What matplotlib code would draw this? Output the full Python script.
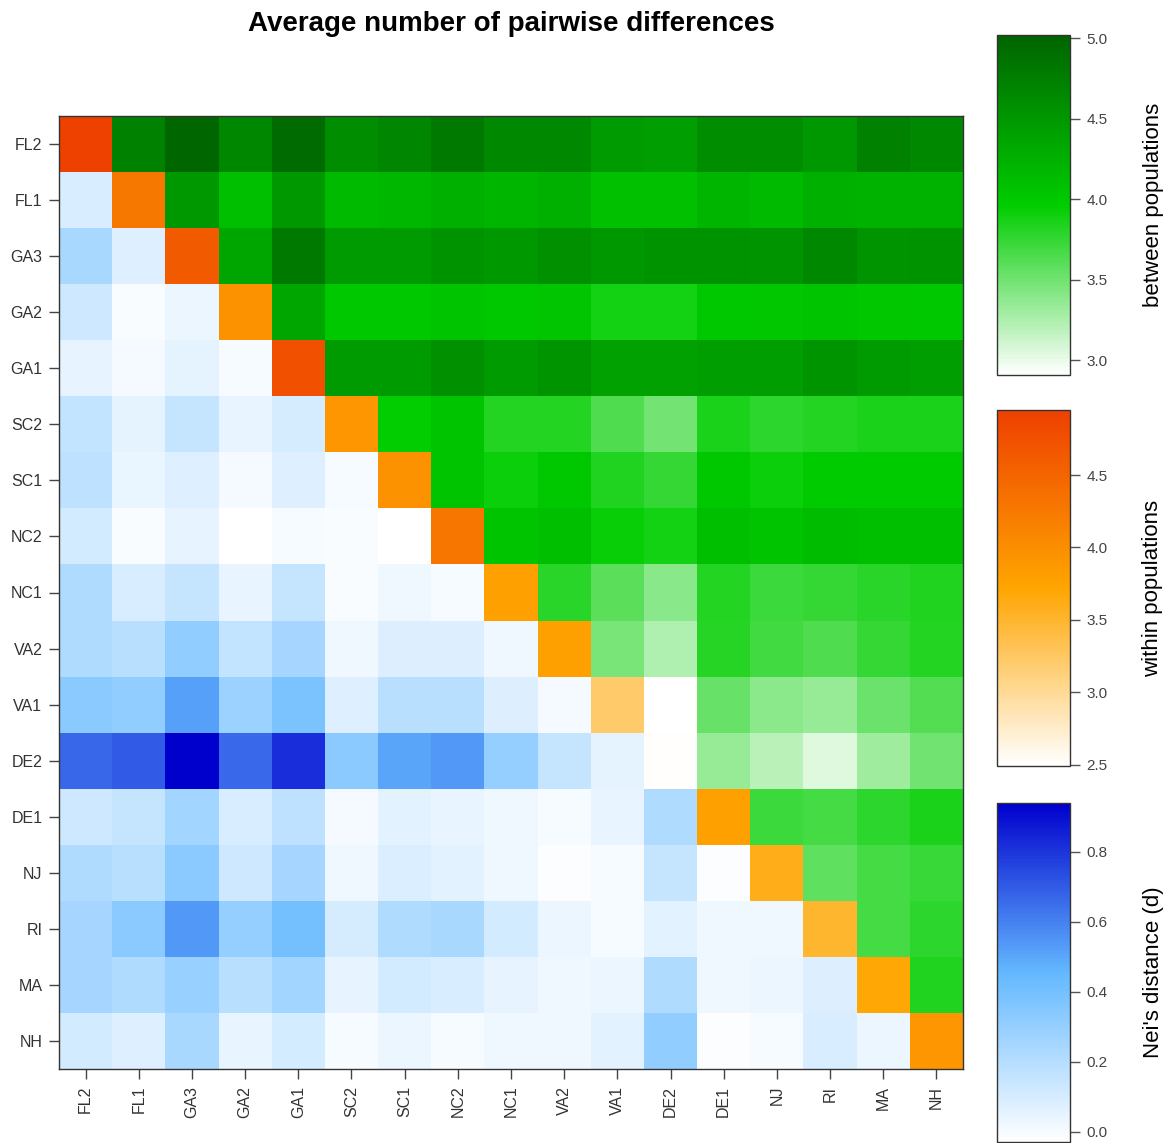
import numpy as np
import matplotlib
matplotlib.use("Agg")
import matplotlib.pyplot as plt
from matplotlib.colors import LinearSegmentedColormap, Normalize

plt.rcParams['font.family'] = ['Liberation Sans', 'DejaVu Sans']

pops = ["FL2", "FL1", "GA3", "GA2", "GA1", "SC2", "SC1", "NC2", "NC1",
        "VA2", "VA1", "DE2", "DE1", "NJ", "RI", "MA", "NH"]

# diagonal: average differences within each population
within = [4.94, 4.26, 4.63, 3.96, 4.75, 3.90, 3.96, 4.29, 3.78,
          3.76, 3.22, 2.50, 3.78, 3.60, 3.49, 3.70, 3.90]

# upper triangle, row by row (columns to the right of the diagonal)
between = [
    [4.72, 5.00, 4.66, 4.94, 4.60, 4.68, 4.80, 4.65, 4.65, 4.46, 4.43, 4.60, 4.60, 4.50, 4.72, 4.65],
    [4.50, 4.11, 4.50, 4.16, 4.18, 4.26, 4.21, 4.26, 4.09, 4.09, 4.21, 4.16, 4.26, 4.23, 4.23],
    [4.36, 4.80, 4.46, 4.46, 4.55, 4.50, 4.58, 4.50, 4.55, 4.55, 4.52, 4.65, 4.52, 4.55],
    [4.36, 4.01, 4.01, 4.06, 4.01, 4.04, 3.89, 3.89, 4.01, 4.03, 4.06, 4.03, 4.01],
    [4.46, 4.46, 4.57, 4.46, 4.52, 4.41, 4.41, 4.43, 4.43, 4.52, 4.46, 4.43],
    [3.96, 4.06, 3.82, 3.82, 3.64, 3.49, 3.85, 3.78, 3.82, 3.85, 3.86],
    [4.06, 3.92, 4.01, 3.83, 3.75, 4.01, 3.92, 3.99, 3.99, 3.99],
    [4.06, 4.11, 3.94, 3.89, 4.11, 4.06, 4.13, 4.11, 4.11],
    [3.80, 3.59, 3.40, 3.82, 3.72, 3.75, 3.80, 3.84],
    [3.47, 3.24, 3.81, 3.70, 3.64, 3.75, 3.82],
    [2.91, 3.54, 3.39, 3.34, 3.52, 3.62],
    [3.34, 3.20, 3.05, 3.31, 3.50],
    [3.72, 3.68, 3.78, 3.85],
    [3.57, 3.68, 3.74],
    [3.68, 3.78],
    [3.84],
]

# lower triangle, row by row (columns to the left of the diagonal)
nei = [
    [0.094],
    [0.238, 0.073],
    [0.125, -0.009, 0.032],
    [0.047, 0.006, 0.053, 0.001],
    [0.156, 0.053, 0.151, 0.042, 0.099],
    [0.171, 0.037, 0.073, 0.006, 0.073, 0.001],
    [0.109, -0.009, 0.047, -0.03, 0.001, -0.009, -0.03],
    [0.218, 0.094, 0.151, 0.042, 0.151, -0.009, 0.016, 0.001],
    [0.218, 0.187, 0.311, 0.156, 0.249, 0.016, 0.078, 0.078, 0.022],
    [0.331, 0.311, 0.517, 0.280, 0.383, 0.073, 0.187, 0.187, 0.078, 0.006],
    [0.667, 0.698, 0.940, 0.661, 0.816, 0.331, 0.507, 0.538, 0.300, 0.151, 0.053],
    [0.125, 0.151, 0.259, 0.094, 0.171, 0.006, 0.063, 0.042, 0.022, 0.001, 0.042, 0.218],
    [0.218, 0.187, 0.331, 0.125, 0.249, 0.016, 0.084, 0.063, 0.016, -0.015, 0.001, 0.151, -0.015],
    [0.249, 0.331, 0.538, 0.300, 0.403, 0.099, 0.218, 0.238, 0.109, 0.032, 0.001, 0.063, 0.022, 0.022],
    [0.249, 0.218, 0.290, 0.187, 0.259, 0.047, 0.109, 0.094, 0.047, 0.016, 0.032, 0.218, 0.016, 0.032, 0.078],
    [0.109, 0.073, 0.238, 0.042, 0.104, 0.001, 0.032, 0.001, 0.016, 0.016, 0.063, 0.311, -0.015, 0.001, 0.094, 0.032],
]

n = len(pops)
up = np.full((n, n), np.nan)
dg = np.full((n, n), np.nan)
lo = np.full((n, n), np.nan)
for i in range(n):
    dg[i, i] = within[i]
    if i < n - 1:
        up[i, i + 1:] = between[i]
    if i > 0:
        lo[i, :i] = nei[i - 1]

cm_green = LinearSegmentedColormap.from_list("g", ["white", "#00CD00", "#006400"])
cm_orange = LinearSegmentedColormap.from_list("o", ["white", "#FFA500", "#EE4000"])
cm_blue = LinearSegmentedColormap.from_list("b", ["white", "#63B8FF", "#0000CD"])
nm_green = Normalize(2.91, 5.02)
nm_orange = Normalize(2.49, 4.95)
nm_blue = Normalize(-0.03, 0.94)

W, H = 1172, 1143
fig = plt.figure(figsize=(W / 100, H / 100), dpi=100)
ax = fig.add_axes([59 / W, 1 - 1069 / H, 904 / W, 953 / H])

m_up = ax.pcolormesh(np.ma.masked_invalid(up), cmap=cm_green, norm=nm_green)
m_dg = ax.pcolormesh(np.ma.masked_invalid(dg), cmap=cm_orange, norm=nm_orange)
m_lo = ax.pcolormesh(np.ma.masked_invalid(lo), cmap=cm_blue, norm=nm_blue)
ax.set_xlim(0, n)
ax.set_ylim(n, 0)
ax.set_xticks(np.arange(n) + 0.5)
ax.set_yticks(np.arange(n) + 0.5)
ax.set_xticklabels(pops, rotation=90)
ax.set_yticklabels(pops)
ax.tick_params(length=7, width=1, color="#444444", labelcolor="#333333",
               labelsize=11.5, pad=5)
for s in ax.spines.values():
    s.set_color("#333333")
    s.set_linewidth(1)

fig.text(511 / W, 1 - 24 / H, "Average number of pairwise differences",
         ha="center", va="center", fontsize=20, fontweight="bold")

bars = [
    (m_up, 35, 375, [3.0, 3.5, 4.0, 4.5, 5.0], "between populations"),
    (m_dg, 410, 766, [2.5, 3.0, 3.5, 4.0, 4.5], "within populations"),
    (m_lo, 803, 1142, [0.0, 0.2, 0.4, 0.6, 0.8], "Nei's distance (d)"),
]
for mappable, top, bot, ticks, label in bars:
    cax = fig.add_axes([997 / W, 1 - bot / H, 73 / W, (bot - top) / H])
    cb = fig.colorbar(mappable, cax=cax, ticks=ticks, format="%.1f")
    cb.outline.set_edgecolor("#333333")
    cb.outline.set_linewidth(1)
    cax.tick_params(length=7, width=1, color="#555555", labelcolor="#444444",
                    labelsize=11, pad=5)
    fig.text(1153 / W, 1 - (top + bot) / 2 / H, label, rotation=90,
             ha="center", va="center", fontsize=16)

fig.savefig("out.png", dpi=100)
